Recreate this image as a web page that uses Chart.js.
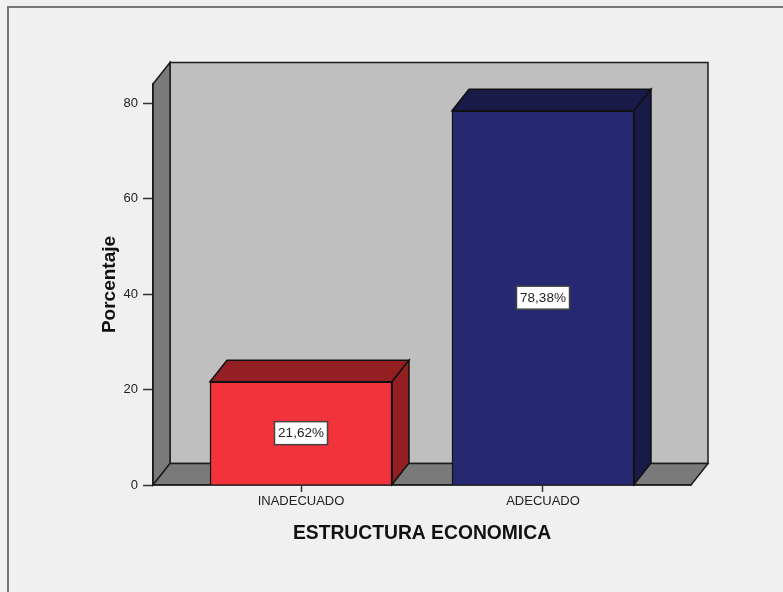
<!DOCTYPE html>
<html>
<head>
<meta charset="utf-8">
<title>Estructura economica</title>
<script src="https://cdn.jsdelivr.net/npm/chart.js@4"></script>
<style>
  html, body { margin: 0; padding: 0; background: #f0f0f0; overflow: hidden; }
  canvas { display: block; }
</style>
</head>
<body>
<canvas id="chart" width="783" height="592"></canvas>
<script>
const categories = ['INADECUADO', 'ADECUADO'];
const percentages = [21.62, 78.38];
const valueLabels = ['21,62%', '78,38%'];
const yTicks = [0, 20, 40, 60, 80];
const frontColors = ['#f2333b', '#262872'];
const shadeColors = ['#931f22', '#181a48'];

const depthX = 17;
const depthY = 21.5;
const line = '#1c1c1c';

function face(ctx, points, fill) {
  ctx.beginPath();
  points.forEach((p, i) => i ? ctx.lineTo(p[0], p[1]) : ctx.moveTo(p[0], p[1]));
  ctx.closePath();
  ctx.fillStyle = fill;
  ctx.fill();
  ctx.stroke();
}

// back wall, left wall and floor, plus the outer frame
const walls = {
  id: 'walls',
  beforeDraw(chart) {
    const { ctx, chartArea: a } = chart;
    ctx.save();
    ctx.strokeStyle = '#777777';
    ctx.lineWidth = 2;
    ctx.beginPath();
    ctx.moveTo(8, 592);
    ctx.lineTo(8, 7);
    ctx.lineTo(783, 7);
    ctx.stroke();

    ctx.strokeStyle = line;
    ctx.lineWidth = 1.5;
    face(ctx, [[a.left + depthX, a.top - depthY], [a.right + depthX, a.top - depthY],
      [a.right + depthX, a.bottom - depthY], [a.left + depthX, a.bottom - depthY]], '#bfbfbf');
    face(ctx, [[a.left, a.top], [a.left + depthX, a.top - depthY],
      [a.left + depthX, a.bottom - depthY], [a.left, a.bottom]], '#7a7a7a');
    face(ctx, [[a.left, a.bottom], [a.left + depthX, a.bottom - depthY],
      [a.right + depthX, a.bottom - depthY], [a.right, a.bottom]], '#7a7a7a');
    ctx.restore();
  },
  beforeDatasetsDraw(chart) {
    const ctx = chart.ctx;
    ctx.save();
    ctx.strokeStyle = '#111111';
    ctx.lineWidth = 1.5;
    chart.getDatasetMeta(0).data.forEach((bar, i) => {
      const l = bar.x - bar.width / 2;
      const r = bar.x + bar.width / 2;
      face(ctx, [[l, bar.y], [l + depthX, bar.y - depthY], [r + depthX, bar.y - depthY], [r, bar.y]], shadeColors[i]);
      face(ctx, [[r, bar.y], [r + depthX, bar.y - depthY], [r + depthX, bar.base - depthY], [r, bar.base]], shadeColors[i]);
    });
    ctx.restore();
  },
  afterDatasetsDraw(chart) {
    const ctx = chart.ctx;
    ctx.save();
    ctx.font = '13.5px "Liberation Sans", Arial, sans-serif';
    ctx.textAlign = 'center';
    ctx.textBaseline = 'middle';
    chart.getDatasetMeta(0).data.forEach((bar, i) => {
      const cy = (bar.y + bar.base) / 2;
      const w = 53;
      const h = 23;
      ctx.fillStyle = '#ffffff';
      ctx.strokeStyle = '#444444';
      ctx.lineWidth = 1.5;
      ctx.fillRect(bar.x - w / 2, cy - h / 2, w, h);
      ctx.strokeRect(bar.x - w / 2, cy - h / 2, w, h);
      ctx.fillStyle = '#222222';
      ctx.fillText(valueLabels[i], bar.x, cy + 0.5);
    });
    ctx.restore();
  }
};

new Chart(document.getElementById('chart'), {
  type: 'bar',
  plugins: [walls],
  data: {
    datasets: [{
      data: percentages.map((v, i) => ({ x: i, y: v })),
      backgroundColor: frontColors,
      borderColor: '#111111',
      borderWidth: 1.5,
      barThickness: 182
    }]
  },
  options: {
    responsive: false,
    animation: false,
    layout: { padding: { left: 90, top: 84, right: 92, bottom: 42 } },
    plugins: { legend: { display: false }, tooltip: { enabled: false } },
    scales: {
      x: {
        type: 'linear',
        offset: false,
        min: -0.6116,
        max: 1.6116,
        afterBuildTicks(scale) { scale.ticks = categories.map((c, i) => ({ value: i })); },
        afterFit(scale) { scale.height = 65; },
        grid: { offset: false, drawOnChartArea: false, tickLength: 7, tickColor: '#333333', tickWidth: 1.5 },
        border: { color: line, width: 1.5 },
        ticks: {
          callback: v => categories[v],
          maxRotation: 0,
          autoSkip: false,
          padding: 2,
          color: '#222222',
          font: { family: '"Liberation Sans", Arial, sans-serif', size: 13 }
        },
        title: {
          display: true,
          text: 'ESTRUCTURA ECONOMICA',
          color: '#111111',
          padding: { top: 4, bottom: 5 },
          font: { family: '"Liberation Sans", Arial, sans-serif', size: 19.3, weight: 'bold' }
        }
      },
      y: {
        min: 0,
        max: 84,
        afterBuildTicks(scale) { scale.ticks = yTicks.map(v => ({ value: v })); },
        afterFit(scale) { scale.width = 63; },
        grid: { drawOnChartArea: false, tickLength: 10, tickColor: '#333333', tickWidth: 1.5 },
        border: { color: line, width: 1.5 },
        ticks: {
          padding: 5,
          color: '#222222',
          font: { family: '"Liberation Sans", Arial, sans-serif', size: 13 }
        },
        title: {
          display: true,
          text: 'Porcentaje',
          color: '#111111',
          padding: { top: 8, bottom: 0 },
          font: { family: '"Liberation Sans", Arial, sans-serif', size: 19, weight: 'bold' }
        }
      }
    }
  }
});
</script>
</body>
</html>
